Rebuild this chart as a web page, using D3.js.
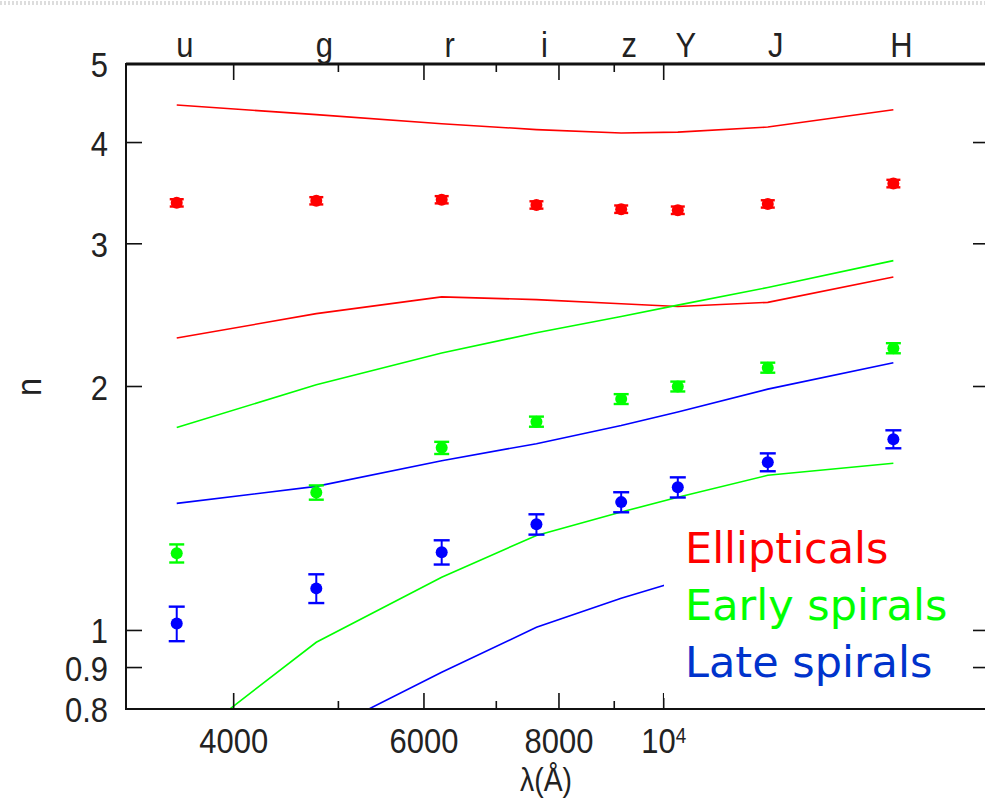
<!DOCTYPE html>
<html><head><meta charset="utf-8">
<script src="https://cdn.jsdelivr.net/npm/d3@7"></script>
<style>
html,body{margin:0;padding:0;background:#fff;}
svg{display:block;}
.ax{font-family:"Liberation Sans",Arial,sans-serif;font-size:36px;fill:#222;}
.leg{font-family:"DejaVu Sans",Verdana,sans-serif;font-size:43px;}
</style></head>
<body>
<svg id="c" width="985" height="801"></svg>
<script>
// ---- data ----
const bands = ["u","g","r","i","z","Y","J","H"];
const wavelengths = [3543,4770,6231,7625,9134,10305,12483,16313];
const xTickLabels = ["4000","6000","8000","10^4"];
const xTickValues = [4000,6000,8000,10000];
const xMinorTicks = [5000,7000,9000];
const yTickValues = [5,4,3,2,1,0.9,0.8];
const yTickLabels = ["5","4","3","2","1","0.9","0.8"];

const ellPts   = [3.37,3.39,3.40,3.35,3.31,3.30,3.36,3.56];
const ellErr   = [0.035,0.035,0.035,0.035,0.035,0.035,0.035,0.038];
const earlyPts = [1.245,1.48,1.68,1.81,1.93,2.00,2.11,2.23];
const earlyErr = [0.032,0.030,0.029,0.026,0.027,0.028,0.030,0.032];
const latePts  = [1.02,1.127,1.249,1.352,1.44,1.502,1.613,1.722];
const lateErr  = [0.050,0.046,0.043,0.039,0.041,0.043,0.041,0.044];

const ellUpper   = [4.45,4.33,4.22,4.15,4.11,4.12,4.18,4.39];
const ellLower   = [2.295,2.46,2.58,2.56,2.53,2.51,2.54,2.73];
const earlyUpper = [1.78,2.01,2.20,2.33,2.44,2.52,2.65,2.86];
const earlyLower = [0.712,0.967,1.163,1.31,1.40,1.46,1.554,1.608];
const lateUpper  = [1.435,1.506,1.62,1.70,1.79,1.86,1.985,2.14];
const lateLower  = [null,0.742,0.888,1.009,1.096,1.15,null,null];

const legendNames = ["Ellipticals","Early spirals","Late spirals"];
const legendColors = ["#ff0000","#00ff00","#0033cc"];

// ---- layout ----
const L=126, R=989, T=64, B=709;
const SX = 0.86; // horizontal squeeze of axis font
const svg = d3.select("#c");
const x = d3.scaleLog().domain([3180,20000]).range([L,R]);
const y = d3.scaleLog().domain([0.8,5]).range([B,T]);

// top dotted strip
svg.append("line").attr("x1",0).attr("x2",985).attr("y1",3).attr("y2",3)
  .attr("stroke","#ddd").attr("stroke-width",4).attr("stroke-dasharray","2,2");

svg.append("defs").append("clipPath").attr("id","clip")
  .append("rect").attr("x",L).attr("y",T).attr("width",R-L).attr("height",B-T);

const plot = svg.append("g").attr("clip-path","url(#clip)");

// lines
const line = d3.line()
  .defined(d=>d[1]!=null)
  .x(d=>x(d[0])).y(d=>y(d[1]));
const lineSets = [
  [ellUpper,"#ff0000"],[ellLower,"#ff0000"],
  [earlyUpper,"#00ff00"],[earlyLower,"#00ff00"],
  [lateUpper,"#0000ff"],[lateLower,"#0000ff"]
];
lineSets.forEach(([vals,col])=>{
  plot.append("path")
    .datum(wavelengths.map((w,i)=>[w,vals[i]]))
    .attr("d",line).attr("fill","none").attr("stroke",col).attr("stroke-width",1.6);
});

// points with error bars
const ptSets = [[ellPts,ellErr,"#ff0000",6,7],[earlyPts,earlyErr,"#00ff00",6,7.5],[latePts,lateErr,"#0000ff",6,8]];
ptSets.forEach(([vals,errs,col,r,cw])=>{
  const g = plot.append("g");
  wavelengths.forEach((w,i)=>{
    const cx=x(w), y1=y(vals[i]-errs[i]), y2=y(vals[i]+errs[i]);
    g.append("line").attr("x1",cx).attr("x2",cx).attr("y1",y1).attr("y2",y2).attr("stroke",col).attr("stroke-width",2);
    [y1,y2].forEach(yy=>g.append("line").attr("x1",cx-cw).attr("x2",cx+cw).attr("y1",yy).attr("y2",yy).attr("stroke",col).attr("stroke-width",2.4));
    g.append("circle").attr("cx",cx).attr("cy",y(vals[i])).attr("r",r).attr("fill",col);
  });
});

// ticks
const tk = svg.append("g").attr("stroke","#111").attr("stroke-width",1.6);
xTickValues.forEach(v=>{
  tk.append("line").attr("x1",x(v)).attr("x2",x(v)).attr("y1",B).attr("y2",B-16);
  tk.append("line").attr("x1",x(v)).attr("x2",x(v)).attr("y1",T).attr("y2",T+16);
});
xMinorTicks.forEach(v=>{
  tk.append("line").attr("x1",x(v)).attr("x2",x(v)).attr("y1",B).attr("y2",B-8);
  tk.append("line").attr("x1",x(v)).attr("x2",x(v)).attr("y1",T).attr("y2",T+8);
});
yTickValues.forEach(v=>{
  tk.append("line").attr("x1",L).attr("x2",L+16).attr("y1",y(v)).attr("y2",y(v));
  tk.append("line").attr("x1",R).attr("x2",R-16).attr("y1",y(v)).attr("y2",y(v));
});

// legend box
svg.append("rect").attr("x",664).attr("y",518).attr("width",308).attr("height",180).attr("fill","#fff");
const lg = svg.append("g").attr("class","leg");
legendNames.forEach((n,i)=>{
  lg.append("text").attr("x",685).attr("y",563+i*57).attr("fill",legendColors[i]).text(n);
});

// frame
svg.append("rect").attr("x",L).attr("y",T).attr("width",R-L).attr("height",B-T)
  .attr("fill","none").attr("stroke","#111").attr("stroke-width",2);
svg.append("line").attr("x1",L).attr("x2",R).attr("y1",T).attr("y2",T).attr("stroke","#111").attr("stroke-width",3);

// tick labels (squeezed horizontally)
const ax = svg.append("g").attr("class","ax");
function label(px,py,anchor,txt){
  return ax.append("text")
    .attr("transform",`translate(${px},${py}) scale(${SX},1)`)
    .attr("text-anchor",anchor).text(txt);
}
yTickValues.forEach((v,i)=>{
  label(108,y(v)+13,"end",yTickLabels[i]);
});
xTickValues.forEach((v,i)=>{
  const lab = xTickLabels[i];
  if(lab.includes("^")){
    const [b,e]=lab.split("^");
    const t = label(x(v),753,"middle","");
    t.append("tspan").text(b);
    t.append("tspan").attr("dy","-0.45em").attr("font-size","22px").text(e);
  } else label(x(v),753,"middle",lab);
});
bands.forEach((b,i)=>{
  label(x(wavelengths[i])+8,57,"middle",b);
});
label(546,791,"middle","λ(Å)").attr("font-size","33px");
ax.append("text").attr("transform","translate(41,387) rotate(-90) scale(0.9,1)").attr("text-anchor","middle").text("n");
</script>
</body></html>
